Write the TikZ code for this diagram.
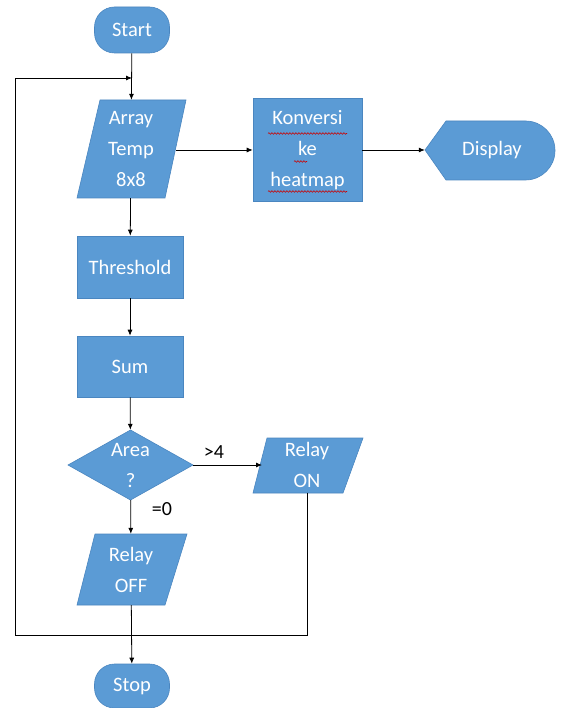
\documentclass[tikz,border=0pt]{standalone}
\usepackage{fontspec}
\setmainfont{Carlito}
\usetikzlibrary{arrows.meta,decorations.pathmorphing}
\definecolor{boxblue}{HTML}{5B9BD5}
\definecolor{boxedge}{HTML}{4A86C0}
\tikzset{
  shapefill/.style={fill=boxblue,draw=boxedge,line width=0.6pt},
  txt/.style={text=white,font=\fontsize{20.5}{31}\selectfont,align=center,inner sep=0pt},
  boxnode/.style={shapefill,txt,minimum width=106pt,minimum height=62pt},
  lbl/.style={text=black,font=\fontsize{20}{22}\selectfont,inner sep=0pt},
  conn/.style={draw=black,line width=0.8pt},
  arr/.style={conn,-{Latex[length=6pt,width=5pt]}},
  squig/.style={draw=red!80!black,line width=0.6pt,decorate,decoration={snake,amplitude=0.8pt,segment length=3pt}}
}
\begin{document}
\begin{tikzpicture}[x=1pt,y=-1pt]
\useasboundingbox[fill=white] (0,0) rectangle (561,708);
% Start
\node[shapefill,txt,rounded corners=20pt,minimum width=75pt,minimum height=46pt] (start) at (132,30) {Start};
% Array Temp (parallelogram)
\fill[shapefill] (100,100) -- (186,100) -- (165,198) -- (77,198) -- cycle;
\node[txt,minimum width=90pt,minimum height=98pt] (arr) at (131,149) {Array\\Temp\\8x8};
% Konversi
\node[boxnode,minimum width=109pt,minimum height=103pt] (konv) at (307.5,150) {Konversi\\ke\\heatmap};
\draw[squig] (268,133.5) -- (347,133.5);
\draw[squig] (294,161.5) -- (307,161.5);
\draw[squig] (268,191.5) -- (347,191.5);
% Display
\fill[shapefill] (425,150) -- (446,121) -- (525.5,121) arc[start angle=-90,end angle=90,radius=29.5] -- (446,180) -- cycle;
\node[txt,minimum width=100pt,minimum height=58pt] (disp) at (475,150) {};
\node[txt] (displ) at (492,150) {Display};
% Threshold, Sum
\node[boxnode] (thr) at (130,267) {Threshold};
\node[boxnode,minimum height=61pt] (sum) at (130,366.5) {Sum};
% Decision
\fill[shapefill] (130.5,430) -- (193,465) -- (130.5,500) -- (68,465) -- cycle;
\node[txt,minimum width=125pt,minimum height=70pt] (area) at (130.5,465) {Area\\?};
% Relay ON
\fill[shapefill] (267,438) -- (363,438) -- (343,493) -- (253,493) -- cycle;
\node[txt,minimum width=80pt,minimum height=55pt] (on) at (307,465) {Relay\\ON};
% Relay OFF
\fill[shapefill] (95,534) -- (187,534) -- (165,605) -- (77,605) -- cycle;
\node[txt,minimum width=90pt,minimum height=71pt] (off) at (131,569.5) {Relay\\OFF};
% Stop
\node[shapefill,txt,rounded corners=20pt,minimum width=75pt,minimum height=44pt] (stop) at (132,686) {Stop};
% labels
\node[lbl] (gt) at (214,452) {>4};
\node[lbl] (eq) at (162,509) {=0};
% helper coordinates
\coordinate (j1) at (132,78);
\coordinate (lt) at (15,78);
\coordinate (lb) at (15,635);
% connectors
\draw[arr] (start) -- (arr);
\draw[arr] (arr.east |- konv.west) -- (konv.west);
\draw[arr] (konv.east) -- (konv.east -| disp.west);
\draw[arr] (arr) -- (thr);
\draw[arr] (thr) -- (sum);
\draw[arr] (sum) -- (area);
\draw[arr] (area.east) -- (on.west -| 262,0);
\draw[arr] (area) -- (off);
\draw[arr] (off) -- (stop);
\draw[arr] (on.south) |- (lb) -- (lt) -- (j1);
\end{tikzpicture}
\end{document}
